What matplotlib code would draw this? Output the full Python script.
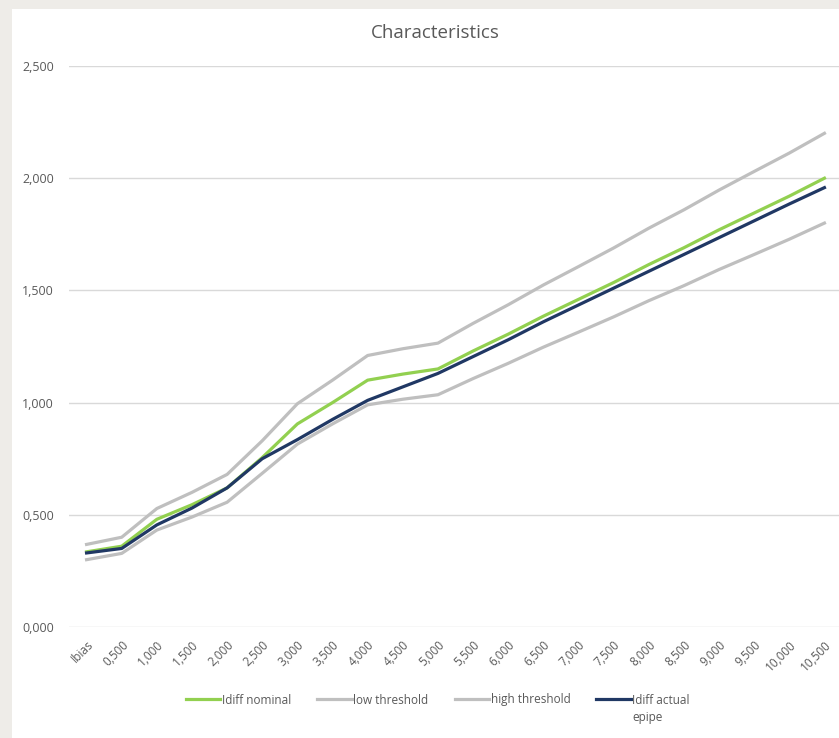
import numpy as np
from matplotlib import pyplot as plt
from matplotlib.patches import Rectangle

# category labels on the x axis
cats = ['Ibias', '0,500', '1,000', '1,500', '2,000', '2,500', '3,000', '3,500',
        '4,000', '4,500', '5,000', '5,500', '6,000', '6,500', '7,000', '7,500',
        '8,000', '8,500', '9,000', '9,500', '10,000', '10,500']

idiff_nominal = [0.335, 0.360, 0.480, 0.545, 0.620, 0.755, 0.905, 1.000, 1.100, 1.127, 1.150,
                 1.230, 1.305, 1.385, 1.460, 1.535, 1.615, 1.690, 1.770, 1.845, 1.920, 2.000]
low_threshold = [0.300, 0.328, 0.432, 0.490, 0.556, 0.685, 0.815, 0.905, 0.990, 1.015, 1.035,
                 1.107, 1.175, 1.247, 1.314, 1.382, 1.454, 1.521, 1.593, 1.660, 1.728, 1.800]
high_threshold = [0.368, 0.400, 0.528, 0.600, 0.680, 0.830, 0.995, 1.100, 1.210, 1.240, 1.265,
                  1.353, 1.436, 1.524, 1.606, 1.689, 1.777, 1.859, 1.947, 2.030, 2.112, 2.200]
idiff_actual = [0.330, 0.350, 0.455, 0.530, 0.620, 0.750, 0.835, 0.925, 1.010, 1.070, 1.130,
                1.205, 1.280, 1.360, 1.435, 1.510, 1.585, 1.660, 1.735, 1.810, 1.885, 1.958]

yticks = [0, 0.5, 1.0, 1.5, 2.0, 2.5]

plt.rcParams['font.family'] = ['Open Sans', 'DejaVu Sans']
txt = '#595959'

fig = plt.figure(figsize=(8.39, 7.38), dpi=100)
fig.patch.set_facecolor('#eeece8')
# white chart area (gray strip left and top like the screenshot)
fig.patches.append(Rectangle((12 / 839, 0), 1, 1 - 9 / 738, transform=fig.transFigure,
                             facecolor='white', edgecolor='none', zorder=-5))

ax = fig.add_axes([69 / 839, 1 - 627 / 738, 773 / 839, (627 - 66) / 738])
ax.set_facecolor('none')
ax.set_zorder(2)

x = np.arange(len(cats))
ax.plot(x, idiff_nominal, color='#92d050', lw=2.3, label='Idiff nominal', zorder=4)
ax.plot(x, low_threshold, color='#bfbfbf', lw=2.3, label='low threshold', zorder=2)
ax.plot(x, high_threshold, color='#bfbfbf', lw=2.3, label='high threshold', zorder=3)
ax.plot(x, idiff_actual, color='#203864', lw=2.3, label='Idiff actual', zorder=5)

ax.set_xlim(-0.5, len(cats) - 0.5)
ax.set_ylim(0, 2.5)
ax.set_yticks(yticks)
ax.set_yticklabels([('%.3f' % v).replace('.', ',') for v in yticks])
ax.set_xticks(x)
ax.set_xticklabels(cats, rotation=45, ha='right', va='top', rotation_mode='anchor')
ax.tick_params(axis='both', length=0, colors=txt, labelsize=8.5)
ax.tick_params(axis='y', pad=11, labelsize=9)
ax.tick_params(axis='x', pad=8)
ax.grid(axis='y', color='#d9d9d9', lw=1)
ax.set_axisbelow(True)
for s in ax.spines.values():
    s.set_visible(False)

fig.text(435 / 839, 1 - 33 / 738, 'Characteristics', ha='center', va='center',
         fontsize=13.5, color=txt)

leg = fig.legend(loc='center', bbox_to_anchor=(438 / 839, 1 - 700 / 738), ncol=4,
                 frameon=False, fontsize=8.5, handlelength=2.9, handletextpad=0.15,
                 columnspacing=2.2, labelcolor=txt)

# second line of the wrapped last legend entry
fig.canvas.draw()
bb = leg.get_texts()[3].get_window_extent().transformed(fig.transFigure.inverted())
fig.text(bb.x0, bb.y0 - 4 / 738, 'epipe', ha='left', va='top', fontsize=8.5, color=txt)

fig.savefig('out.png', dpi=100, facecolor=fig.get_facecolor())
